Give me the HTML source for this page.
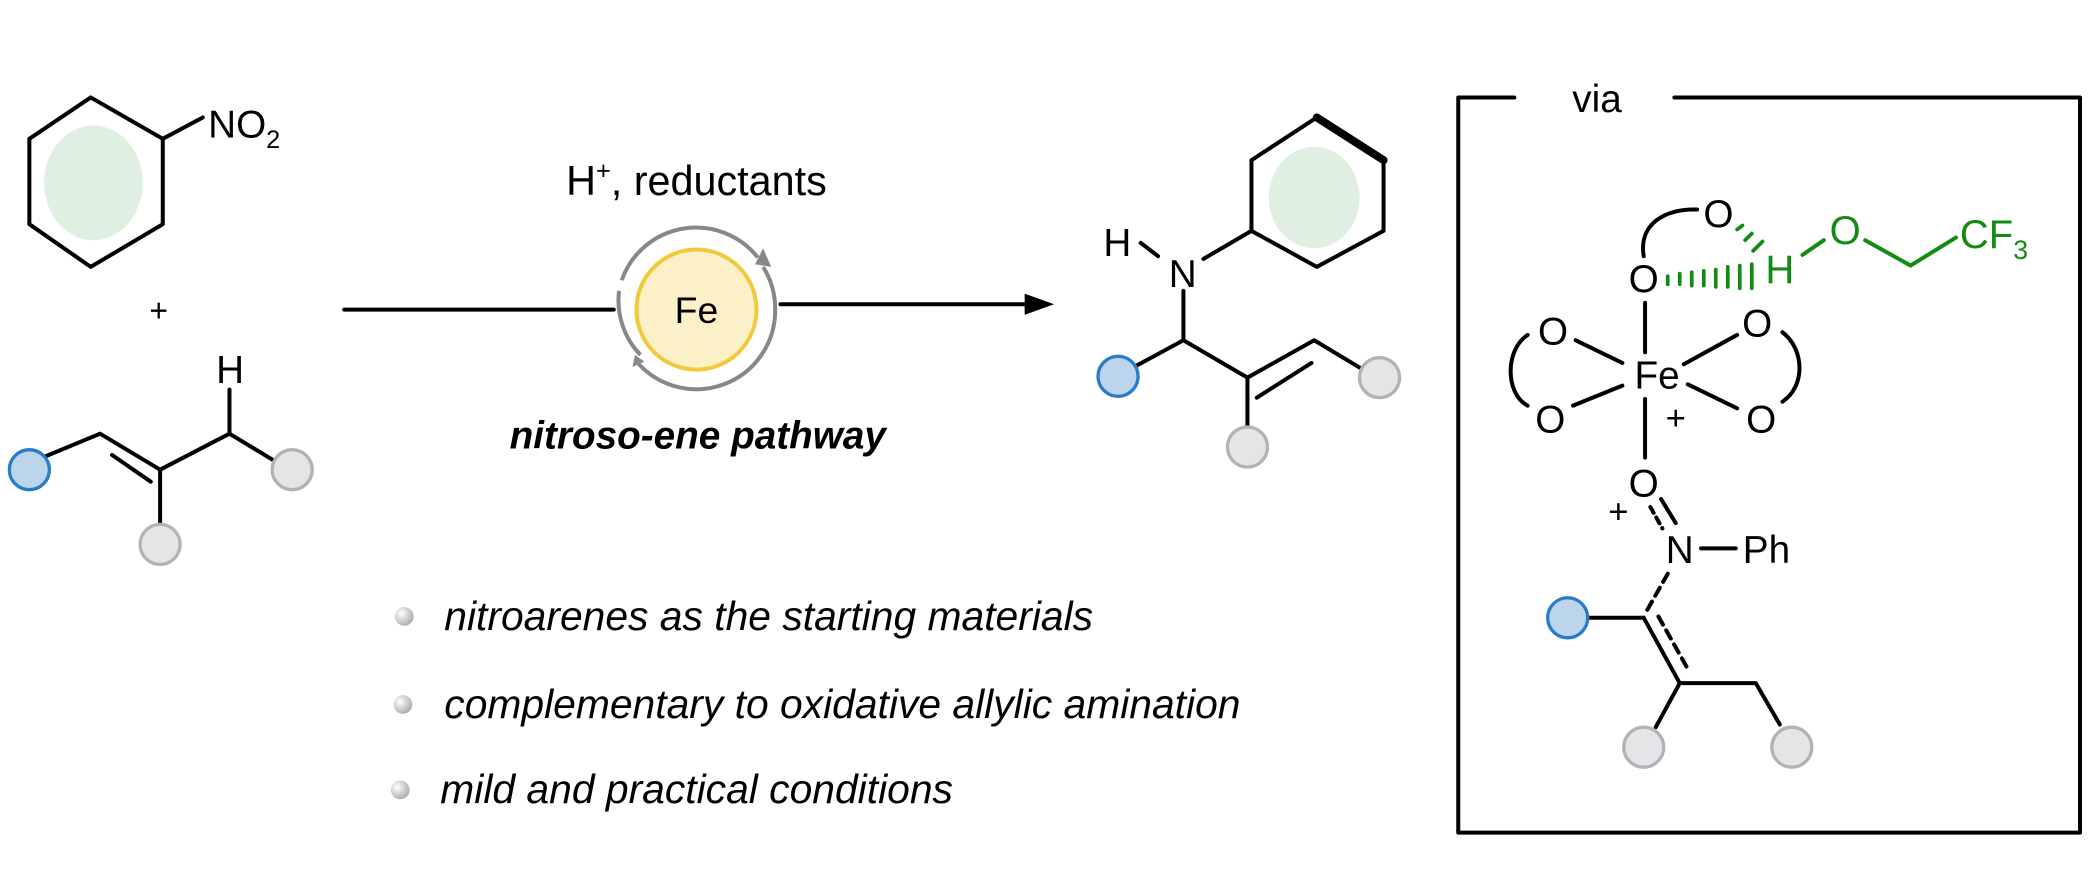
<!DOCTYPE html>
<html><head><meta charset="utf-8"><style>html,body{margin:0;padding:0;background:#fff}svg{display:block}</style></head>
<body>
<svg width="2092" height="874" viewBox="0 0 1568 655" xmlns="http://www.w3.org/2000/svg" font-family="Liberation Sans, Arial, sans-serif">
<defs>
<radialGradient id="sph" cx="0.35" cy="0.35" r="0.7"><stop offset="0" stop-color="#fff"/><stop offset="1" stop-color="#aaa"/></radialGradient>
</defs>
<ellipse cx="70" cy="137" rx="37" ry="43" fill="#dff0e3"/>
<ellipse cx="985" cy="148" rx="34" ry="38" fill="#dff0e3"/>
<g stroke="#000" stroke-width="3" fill="none" stroke-linecap="round" stroke-linejoin="round">
<polygon points="68,73 122,104 122,168 68,200 22,168 22,104"/>
<line x1="122" y1="104" x2="152" y2="88"/>
<polyline points="34,342 75,325 120,352 172,325 205,345"/>
<line x1="172" y1="325" x2="172" y2="292"/>
<line x1="84" y1="341" x2="113" y2="361"/>
<line x1="120" y1="352" x2="120" y2="394"/>
<line x1="258" y1="232" x2="460" y2="232"/>
<line x1="585" y1="228" x2="770" y2="228"/>
<polygon points="938,120 987,88 1037,120 1037,173 987,200 938,173"/>
<line x1="987" y1="88" x2="1037" y2="120" stroke-width="6"/>
<line x1="938" y1="173" x2="902" y2="194"/>
<line x1="855" y1="182" x2="868" y2="192"/>
<line x1="887" y1="218" x2="887" y2="255"/>
<polyline points="850,275 887,255 935,283 985,255 1020,276"/>
<line x1="942" y1="298" x2="983" y2="272"/>
<line x1="935" y1="283" x2="935" y2="320"/>
<polyline points="1135,73 1093,73 1093,624 1559,624 1559,73 1255,73"/>
<path d="M1232,192 C1228,168 1248,156 1272,157"/>
<line x1="1233" y1="227" x2="1233" y2="264"/>
<line x1="1233" y1="299" x2="1233" y2="343"/>
<line x1="1181" y1="255" x2="1216" y2="272"/>
<line x1="1179" y1="304" x2="1216" y2="289"/>
<line x1="1262" y1="273" x2="1302" y2="251"/>
<line x1="1265" y1="288" x2="1302" y2="306"/>
<path d="M1145,251 C1128,262 1128,295 1145,304"/>
<path d="M1336,249 C1353,262 1353,290 1336,301"/>
<line x1="1245" y1="374" x2="1256" y2="392"/>
<line x1="1237" y1="380" x2="1246" y2="396" stroke-dasharray="5,4"/>
<line x1="1275" y1="411" x2="1301" y2="411"/>
<line x1="1250" y1="430" x2="1233" y2="460" stroke-dasharray="7,5"/>
<line x1="1190" y1="463" x2="1232" y2="463"/>
<line x1="1232" y1="463" x2="1259" y2="512"/>
<line x1="1243" y1="462" x2="1266" y2="503" stroke-dasharray="7,5"/>
<polyline points="1259,512 1316,512 1334,543"/>
<line x1="1259" y1="512" x2="1241" y2="545"/>
</g>
<circle cx="522" cy="232" r="45" fill="#fbf0c8" stroke="#f1c93a" stroke-width="3"/>
<path d="M568,193 A59,59 0 0 0 466,210" fill="none" stroke="#888" stroke-width="3"/>
<path d="M478,272 A59,59 0 0 0 581,232 A59,59 0 0 0 572,200" fill="none" stroke="#888" stroke-width="3"/>
<path d="M464,218 A59,59 0 0 0 480,266" fill="none" stroke="#888" stroke-width="3"/>
<polygon points="566,198 572,186 578,200" fill="#888"/>
<polygon points="476,266 483,271 474,275" fill="#888"/>
<text x="522" y="242" font-size="28" text-anchor="middle">Fe</text>
<polygon points="790,228 768,220 768,236" fill="#000"/>
<g stroke-width="2.5">
<circle cx="22" cy="352" r="15" fill="#bcd5ec" stroke="#2a7bc8"/>
<circle cx="219" cy="352" r="15" fill="#e6e4e5" stroke="#b5b1b3"/>
<circle cx="120" cy="408" r="15" fill="#e4e5e7" stroke="#b0b3b7"/>
<circle cx="838" cy="282" r="15" fill="#bcd5ec" stroke="#2a7bc8"/>
<circle cx="1034" cy="283" r="15" fill="#e6e4e5" stroke="#b5b1b3"/>
<circle cx="935" cy="335" r="15" fill="#e4e5e7" stroke="#b0b3b7"/>
<circle cx="1175" cy="463" r="15" fill="#bcd5ec" stroke="#2a7bc8"/>
<circle cx="1232" cy="560" r="15" fill="#e4e5e7" stroke="#b0b3b7"/>
<circle cx="1343" cy="560" r="15" fill="#e6e4e5" stroke="#b5b1b3"/>
</g>
<g font-size="29" fill="#000">
<text x="156" y="103">NO<tspan font-size="19" dy="8">2</tspan></text>
<text x="112" y="241" font-size="24">+</text>
<text x="162" y="287">H</text>
<text x="522" y="146" text-anchor="middle" font-size="31">H<tspan font-size="19" dy="-12">+</tspan><tspan dy="12">, reductants</tspan></text>
<text x="523" y="336" text-anchor="middle" font-weight="bold" font-style="italic" font-size="29">nitroso-ene pathway</text>
<text x="827" y="192">H</text>
<text x="876" y="215">N</text>
<text x="1197" y="84" text-anchor="middle">via</text>
<g font-style="italic" font-size="30.6">
<text x="333" y="472">nitroarenes as the starting materials</text>
<text x="333" y="538">complementary to oxidative allylic amination</text>
<text x="330" y="602">mild and practical conditions</text>
</g>
<g text-anchor="middle" font-size="29">
<text x="1288" y="170">O</text>
<text x="1232" y="219">O</text>
<text x="1242" y="291">Fe</text>
<text x="1164" y="258">O</text>
<text x="1162" y="324">O</text>
<text x="1317" y="252">O</text>
<text x="1320" y="324">O</text>
<text x="1256" y="322" font-size="26">+</text>
<text x="1232" y="372">O</text>
<text x="1213" y="392" font-size="26">+</text>
<text x="1259" y="422">N</text>
<text x="1324" y="422">Ph</text>
</g>
<g fill="#138a13" font-size="30">
<text x="1334" y="212" text-anchor="middle">H</text>
<text x="1383" y="183" text-anchor="middle">O</text>
<text x="1469" y="186">CF<tspan font-size="20" dy="8">3</tspan></text>
</g>
</g>
<g stroke="#138a13" stroke-width="3" fill="none" stroke-linecap="round">
<line x1="1351" y1="191" x2="1367" y2="180"/>
<polyline points="1398,180 1432,199 1466,178"/>
<g stroke-width="2.8">
<line x1="1250" y1="207" x2="1250" y2="213"/><line x1="1259" y1="205" x2="1259" y2="213"/>
<line x1="1268" y1="204" x2="1268" y2="214"/><line x1="1277" y1="203" x2="1277" y2="214"/>
<line x1="1286" y1="202" x2="1286" y2="215"/><line x1="1295" y1="200" x2="1295" y2="215"/>
<line x1="1304" y1="199" x2="1304" y2="216"/><line x1="1313" y1="198" x2="1313" y2="216"/>
<line x1="1302" y1="172" x2="1306" y2="169"/><line x1="1308" y1="180" x2="1313" y2="175"/>
<line x1="1314" y1="188" x2="1321" y2="181"/>
</g>
</g>
<g>
<circle cx="303" cy="462" r="7" fill="url(#sph)"/>
<circle cx="302" cy="528" r="7" fill="url(#sph)"/>
<circle cx="300" cy="592" r="7" fill="url(#sph)"/>
</g>
</svg>
</body></html>
